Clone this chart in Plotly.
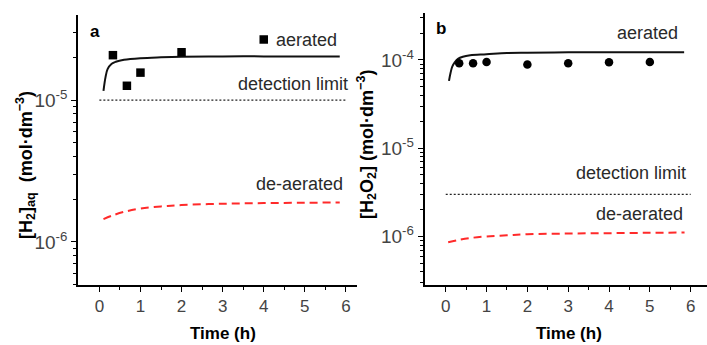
import plotly.graph_objects as go

W, H = 707, 345

# ---------------- data: panel a (H2 aq) ----------------
a_pts_t = [0.33, 0.67, 1.0, 2.0, 4.0]
a_pts_c = [2.07e-5, 1.26e-5, 1.56e-5, 2.17e-5, 2.67e-5]

a_fit_t = [0.1, 0.15, 0.2, 0.3, 0.4, 0.6, 1.0, 1.5, 2.0, 3.0, 4.0, 5.0, 5.85]
a_fit_c = [1.16e-5, 1.45e-5, 1.65e-5, 1.8e-5, 1.86e-5, 1.92e-5, 1.97e-5, 2.0e-5,
           2.02e-5, 2.03e-5, 2.03e-5, 2.03e-5, 2.03e-5]

a_deaer_t = [0.1, 0.3, 0.6, 1.0, 1.5, 2.0, 3.0, 4.0, 5.0, 5.85]
a_deaer_c = [1.45e-6, 1.53e-6, 1.63e-6, 1.72e-6, 1.78e-6, 1.82e-6, 1.86e-6, 1.88e-6, 1.89e-6, 1.9e-6]

a_limit_t = [0.0, 6.0]
a_limit_c = [1e-5, 1e-5]

# ---------------- data: panel b (H2O2) ----------------
b_pts_t = [0.33, 0.67, 1.0, 2.0, 3.0, 4.0, 5.0]
b_pts_c = [9.2e-5, 9.2e-5, 9.5e-5, 8.9e-5, 9.2e-5, 9.4e-5, 9.5e-5]

b_fit_t = [0.08, 0.12, 0.16, 0.22, 0.3, 0.42, 0.6, 1.0, 1.5, 2.0, 3.0, 4.0, 5.0, 5.84]
b_fit_c = [5.8e-5, 7.2e-5, 8.4e-5, 9.4e-5, 1.03e-4, 1.09e-4, 1.13e-4, 1.16e-4, 1.2e-4,
           1.21e-4, 1.22e-4, 1.22e-4, 1.22e-4, 1.22e-4]

b_deaer_t = [0.06, 0.3, 0.6, 1.0, 1.5, 2.0, 3.0, 4.0, 5.0, 5.85]
b_deaer_c = [8.6e-7, 9.1e-7, 9.6e-7, 1.0e-6, 1.03e-6, 1.06e-6, 1.08e-6, 1.09e-6, 1.1e-6, 1.11e-6]

b_limit_t = [0.0, 6.0]
b_limit_c = [3e-6, 3e-6]

x_ticks = [0, 1, 2, 3, 4, 5, 6]
a_ytick_vals = [1e-6, 1e-5]
a_ytick_text = ["10<sup>-6</sup>", "10<sup>-5</sup>"]
b_ytick_vals = [1e-6, 1e-5, 1e-4]
b_ytick_text = ["10<sup>-6</sup>", "10<sup>-5</sup>", "10<sup>-4</sup>"]

FONT = "Liberation Sans, Arial, sans-serif"
TXT = "#2a2a2a"
TICK = "#444"
RED = "#ff2a2a"

fig = go.Figure()

def add_panel(xa, ya, pts_t, pts_c, symbol, fit_t, fit_c, de_t, de_c, lim_t, lim_c):
    fig.add_trace(go.Scatter(x=lim_t, y=lim_c, mode="lines", xaxis=xa, yaxis=ya,
                             line=dict(color="#222", width=1.3, dash="2px,2px"), showlegend=False))
    fig.add_trace(go.Scatter(x=fit_t, y=fit_c, mode="lines", xaxis=xa, yaxis=ya, line_shape="spline",
                             line=dict(color="#111", width=2), showlegend=False))
    fig.add_trace(go.Scatter(x=de_t, y=de_c, mode="lines", xaxis=xa, yaxis=ya, line_shape="spline",
                             line=dict(color=RED, width=2, dash="8px,5px"), showlegend=False))
    fig.add_trace(go.Scatter(x=pts_t, y=pts_c, mode="markers", xaxis=xa, yaxis=ya,
                             marker=dict(symbol=symbol, size=8.5, color="#000",
                                         line=dict(width=0)), showlegend=False))

add_panel("x", "y", a_pts_t, a_pts_c, "square", a_fit_t, a_fit_c, a_deaer_t, a_deaer_c,
          a_limit_t, a_limit_c)
add_panel("x2", "y2", b_pts_t, b_pts_c, "circle", b_fit_t, b_fit_c, b_deaer_t, b_deaer_c,
          b_limit_t, b_limit_c)

def px(x):
    return x / W

def py(y):
    return 1 - y / H

def minor_log(lo, hi):
    vals = []
    for e in range(lo, hi + 1):
        for k in range(2, 10):
            vals.append(k * 10.0 ** e)
    return vals

xcommon = dict(showline=True, linecolor="#000", linewidth=1.5, showgrid=False, zeroline=False,
               ticks="outside", ticklen=5, tickwidth=1.3, tickcolor="#000",
               tickmode="array", tickvals=x_ticks,
               tickfont=dict(family=FONT, size=17, color=TICK),
               minor=dict(ticks="outside", ticklen=3, tickwidth=1.2, tickcolor="#000",
                          tickmode="array", tickvals=[0.5, 1.5, 2.5, 3.5, 4.5, 5.5]))
ycommon = dict(type="log", showline=True, linecolor="#000", linewidth=1.5, showgrid=False,
               zeroline=False, ticks="outside", ticklen=5, tickwidth=1.3, tickcolor="#000",
               tickmode="array", tickfont=dict(family=FONT, size=19, color=TICK))

fig.update_layout(
    width=W, height=H, margin=dict(l=0, r=0, t=0, b=0),
    plot_bgcolor="white", paper_bgcolor="white", showlegend=False,
    xaxis=dict(domain=[px(78), px(357)], range=[-0.52, 6.27], anchor="y", **xcommon),
    yaxis=dict(domain=[py(285), py(15)], range=[-6.303, -4.401], anchor="x",
               tickvals=a_ytick_vals, ticktext=a_ytick_text,
               minor=dict(ticks="outside", ticklen=3, tickwidth=1.2, tickcolor="#000",
                          tickmode="array", tickvals=minor_log(-7, -5)),
               **ycommon),
    xaxis2=dict(domain=[px(424.5), 1.0], range=[-0.52, 6.40], anchor="y2", **xcommon),
    yaxis2=dict(domain=[py(285), py(13.3)], range=[-6.550, -3.471], anchor="x2",
                tickvals=b_ytick_vals, ticktext=b_ytick_text,
                minor=dict(ticks="outside", ticklen=3, tickwidth=1.2, tickcolor="#000",
                           tickmode="array", tickvals=minor_log(-7, -4)),
                **ycommon),
)

def ann(text, x, y, xanchor="center", size=18, bold=False, angle=0, color=TXT):
    fig.add_annotation(text=(f"<b>{text}</b>" if bold else text), x=px(x), y=py(y),
                       xref="paper", yref="paper", xanchor=xanchor, yanchor="middle",
                       showarrow=False, textangle=angle,
                       font=dict(family=FONT, size=size, color=color), borderpad=0)

# panel labels
ann("a", 94.5, 31.5, size=17, bold=True, color="#000")
ann("b", 441, 28.5, size=17, bold=True, color="#000")

# panel a curve labels
ann("aerated", 338, 40, xanchor="right")
ann("detection limit", 349, 84, xanchor="right")
ann("de-aerated", 344, 184, xanchor="right")

# panel b curve labels
ann("aerated", 679, 33, xanchor="right")
ann("detection limit", 687, 173, xanchor="right")
ann("de-aerated", 684, 214, xanchor="right")

# axis titles
ann("Time (h)", 223.5, 333, size=17, bold=True, color="#000")
ann("Time (h)", 569, 333, size=17, bold=True, color="#000")
ann("[H<sub>2</sub>]<sub>aq</sub>  (mol·dm<sup>−3</sup>)", 25, 165, size=18, bold=True,
    angle=-90, color="#000")
ann("[H<sub>2</sub>O<sub>2</sub>] (mol·dm<sup>−3</sup>)", 366, 145, size=18, bold=True,
    angle=-90, color="#000")

fig.write_html("out.html",
               config={"displayModeBar": False},
               post_script="document.body.style.margin='0';document.body.style.overflow='hidden';")
